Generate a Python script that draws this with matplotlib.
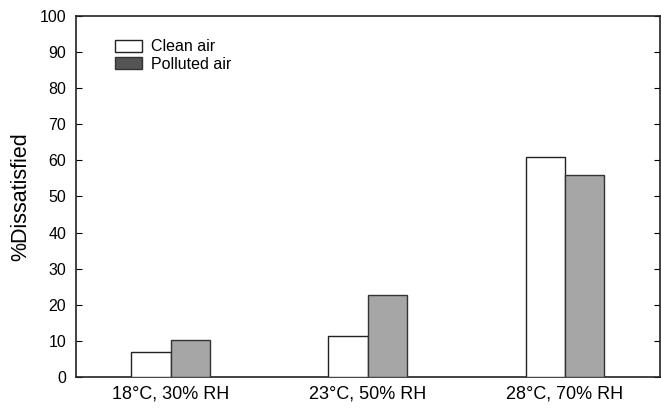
import numpy as np
import matplotlib
matplotlib.use("Agg")
import matplotlib.pyplot as plt

plt.rcParams["font.family"] = ["Liberation Sans", "DejaVu Sans"]

# data
kondisi = ["18°C, 30% RH", "23°C, 50% RH", "28°C, 70% RH"]
clean_air = [7.0, 11.4, 60.9]
polluted_air = [10.2, 22.7, 56.0]

x = np.arange(len(kondisi))
w = 0.2

fig = plt.figure(figsize=(6.61, 4.11), dpi=100)
ax = fig.add_axes([0.115, 0.083, 0.883, 0.878])

ax.bar(x - w / 2, clean_air, width=w, color="white", edgecolor="#222222",
       linewidth=1.0, label="Clean air", zorder=3)
ax.bar(x + w / 2, polluted_air, width=w, color="#a6a6a6", edgecolor="#333333",
       linewidth=1.0, label="Polluted air", zorder=3)

ax.set_xlim(-0.48, 2.48)
ax.set_ylim(0, 100)
ax.set_yticks(np.arange(0, 101, 10))
ax.set_xticks(x)
ax.set_xticklabels(kondisi, fontsize=13)
ax.tick_params(axis="x", length=0, pad=6)
ax.tick_params(axis="y", direction="in", length=4, right=True, labelsize=11.5,
               width=0.8, pad=7)
ax.set_ylabel("%Dissatisfied", fontsize=15.5, labelpad=6)

for s in ax.spines.values():
    s.set_color("#222222")
    s.set_linewidth(1.2)

leg = ax.legend(loc="upper left", bbox_to_anchor=(0.066, 0.935), frameon=False,
                fontsize=11.5, handlelength=1.75, handleheight=0.8,
                handletextpad=0.55, labelspacing=0.15, borderaxespad=0,
                borderpad=0)
leg.get_patches()[1].set_facecolor("#555555")

fig.savefig("out.png", dpi=100)
